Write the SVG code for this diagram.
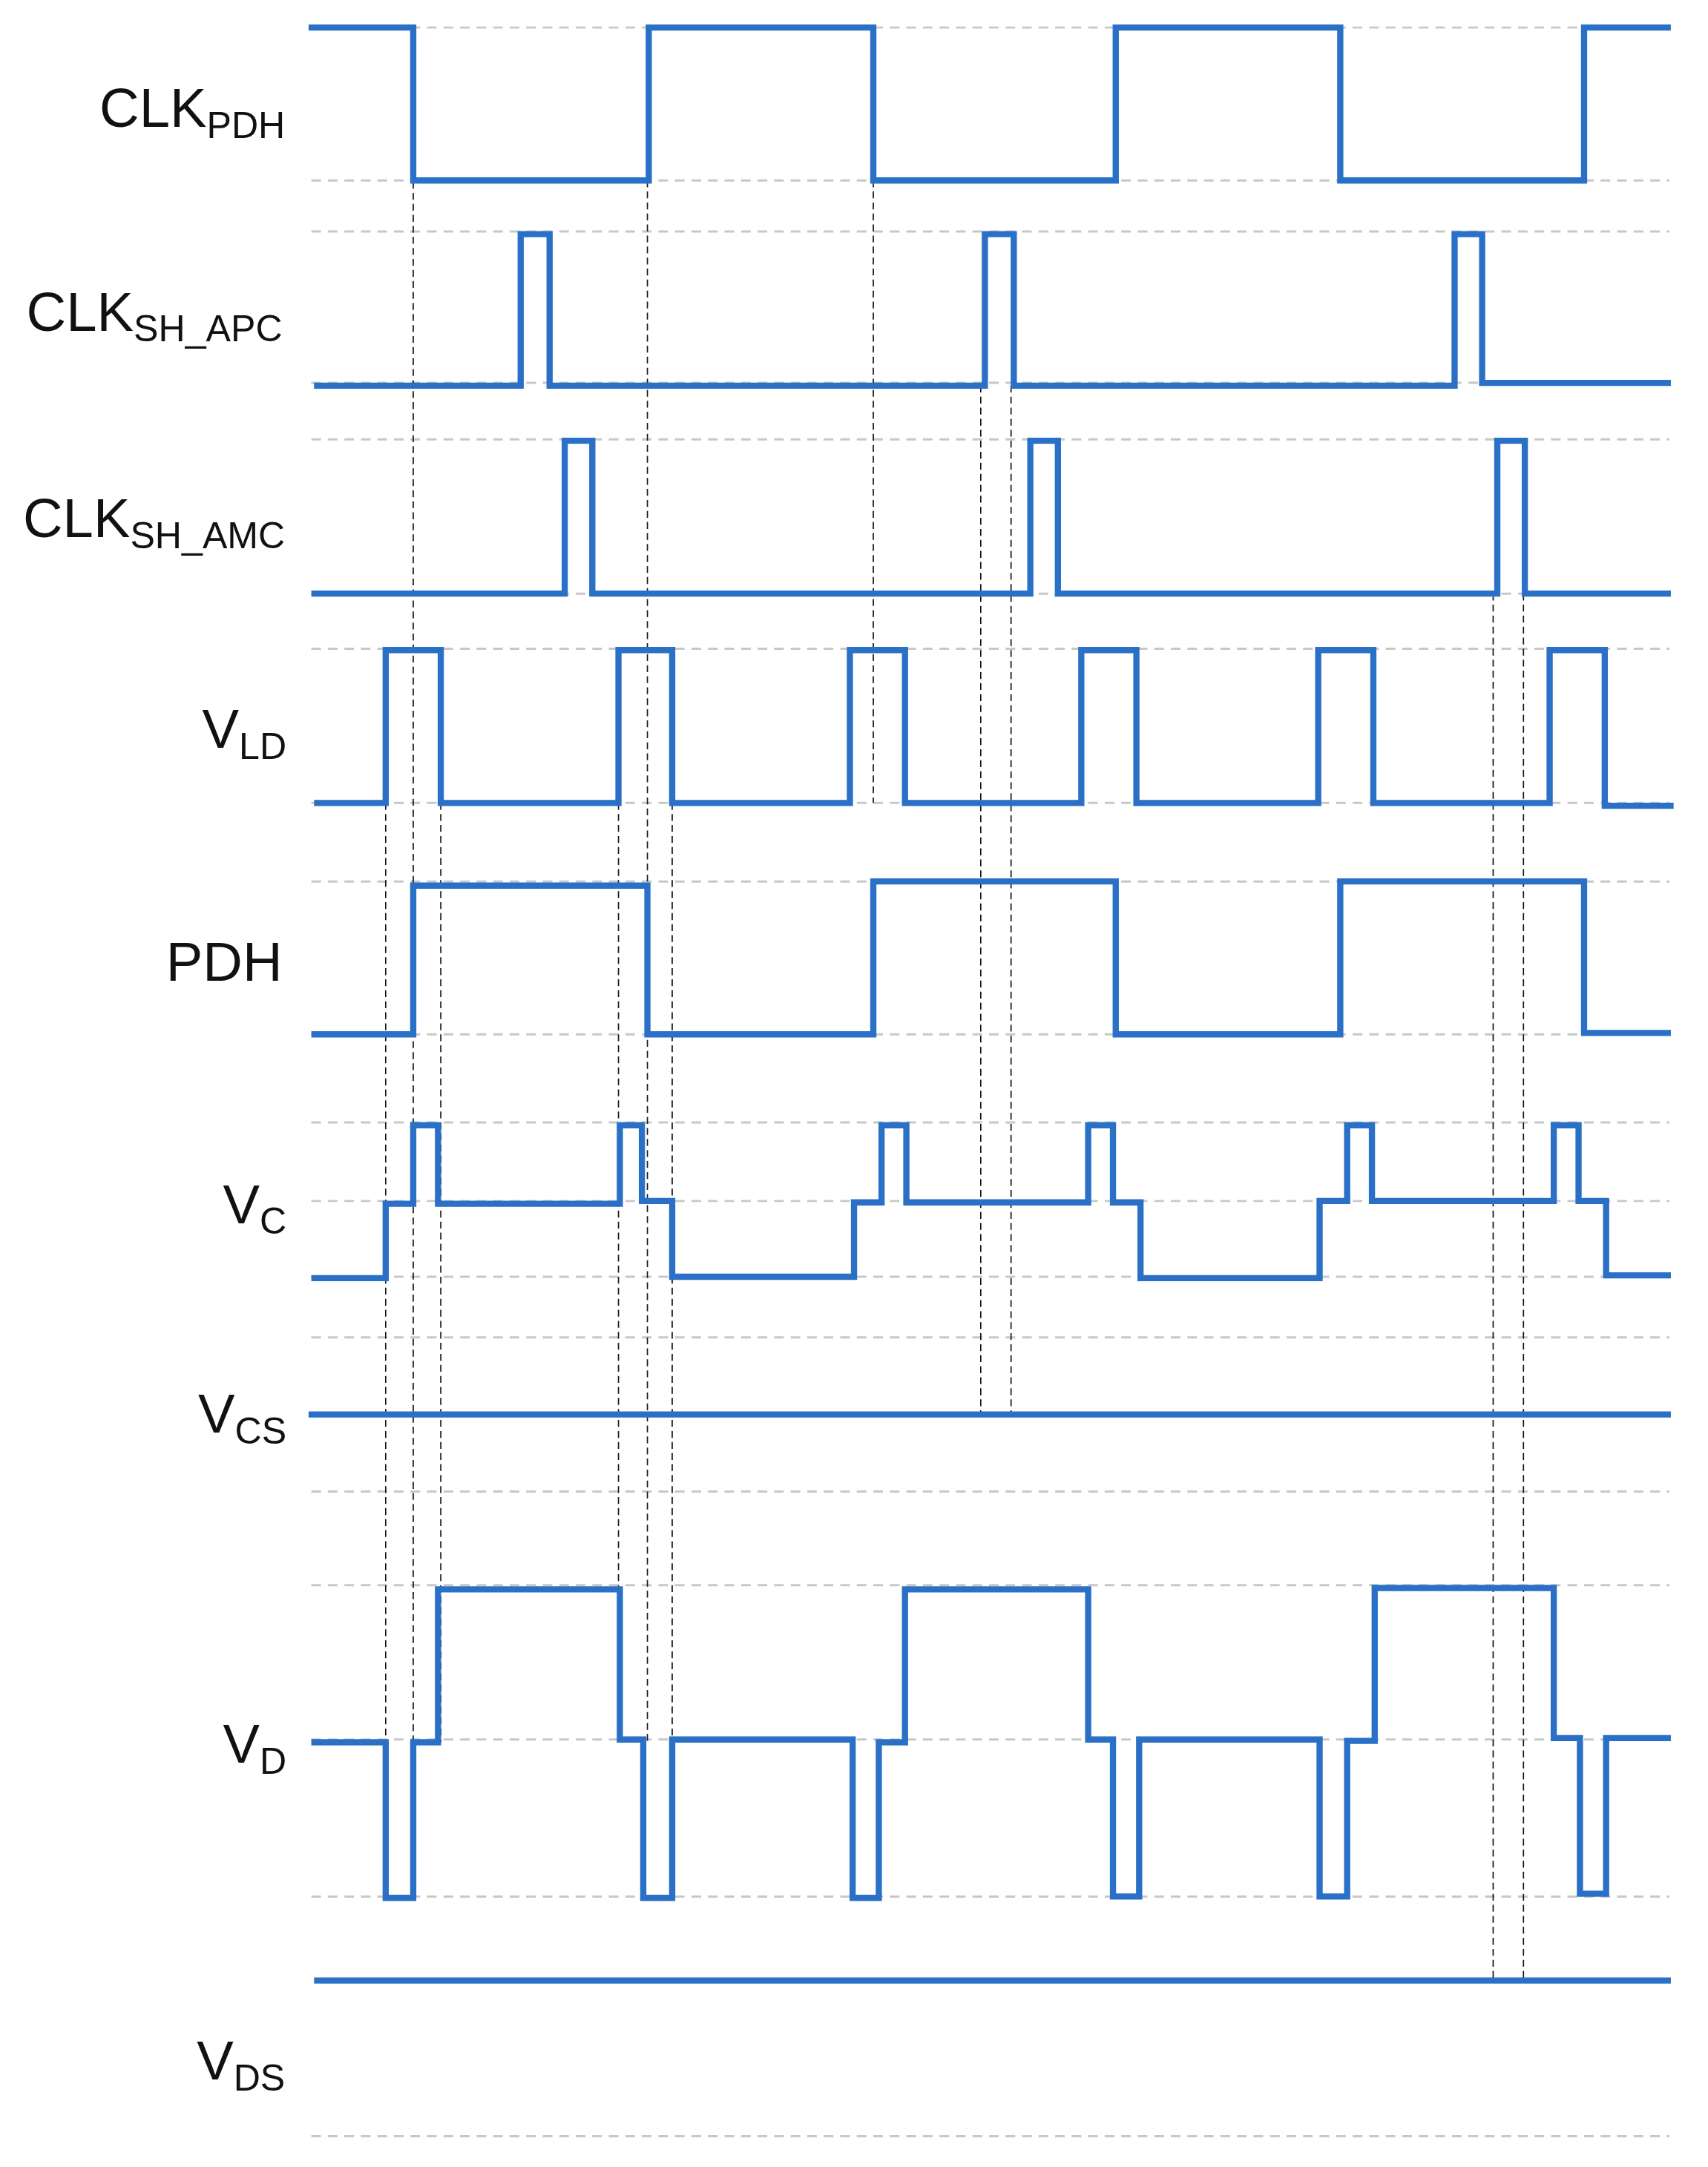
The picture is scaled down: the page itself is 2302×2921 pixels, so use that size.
<svg xmlns="http://www.w3.org/2000/svg" width="2302" height="2921" viewBox="0 0 2302 2921">
<style>
.g{stroke:#c8c8c8;stroke-width:1.6;stroke-dasharray:7 5;fill:none}
.s{stroke:#2a70c6;stroke-width:4.5;fill:none;stroke-linejoin:miter}
.v{stroke:#111;stroke-width:0.9;stroke-dasharray:5 3;fill:none}
.t{font-family:"Liberation Sans",Arial,sans-serif;font-size:40px;fill:#111;text-anchor:end}
.sub{font-size:27px}
</style>
<rect width="2302" height="2921" fill="#fff"/>
<g transform="scale(1.8565)">
<g id="grid">
<path class="g" d="M226 20H1212M226 131H1212M226 168H1212M226 278H1212M226 319H1212M226 431H1212M226 471H1212M226 583H1212M226 640H1212M226 751H1212M226 815H1212M226 872H1212M226 927H1212M226 971H1212M226 1083H1212M226 1151H1212M226 1263H1212M226 1377H1212M226 1551H1212"/>
</g>
<g id="connectors">
<path class="v" d="M300 20V1378M470 131V1265M634 131V583M280 583V1378M320 583V1265M449 583V1265M488 583V1265M712 280V1027M734 280V1027M1084 431V1438M1106 431V1438"/>
</g>
<g id="clk_pdh"><path class="s" d="M224 20H300V131H471V20H634V131H810V20H973V131H1150V20H1213"/>
<text class="t" x="207" y="92">CLK<tspan class="sub" dy="8">PDH</tspan></text></g>
<g id="clk_sh_apc"><path class="s" d="M228 280H378V170H399V280H715V170H736V280H1056V170H1076V278H1213"/>
<text class="t" x="205" y="240">CLK<tspan class="sub" dy="8">SH_APC</tspan></text></g>
<g id="clk_sh_amc"><path class="s" d="M226 431H410V320H430V431H748V320H768V431H1087V320H1107V431H1213"/>
<text class="t" x="207" y="390">CLK<tspan class="sub" dy="8">SH_AMC</tspan></text></g>
<g id="vld"><path class="s" d="M228 583H280V472H320V583H449V472H488V583H617V472H657V583H785V472H825V583H957V472H997V583H1125V472H1165V585H1215"/>
<text class="t" x="208" y="543">V<tspan class="sub" dy="8">LD</tspan></text></g>
<g id="pdh"><path class="s" d="M226 751H300V643H470V751H634V640H810V751H973V640H1150V750H1213"/>
<text class="t" x="205" y="712">PDH</text></g>
<g id="vc"><path class="s" d="M226 928H280V874H300V817H318V874H450V817H466V872H488V927H620V873H640V817H658V873H790V817H808V873H828V928H958V872H978V817H996V872H1128V817H1146V872H1166V926H1213"/>
<text class="t" x="208" y="888">V<tspan class="sub" dy="8">C</tspan></text></g>
<g id="vcs"><path class="s" d="M224 1027H1213"/>
<text class="t" x="208" y="1040">V<tspan class="sub" dy="8">CS</tspan></text></g>
<g id="vd"><path class="s" d="M226 1265H280V1378H300V1265H318V1154H450V1263H467V1378H488V1263H619V1378H638V1265H657V1154H790V1263H808V1377H827V1263H958V1377H978V1264H998V1153H1128V1262H1147V1375H1166V1262H1213"/>
<text class="t" x="208" y="1280">V<tspan class="sub" dy="8">D</tspan></text></g>
<g id="vds"><path class="s" d="M228 1438H1213"/>
<text class="t" x="207" y="1510">V<tspan class="sub" dy="8">DS</tspan></text></g>
</g>
</svg>
